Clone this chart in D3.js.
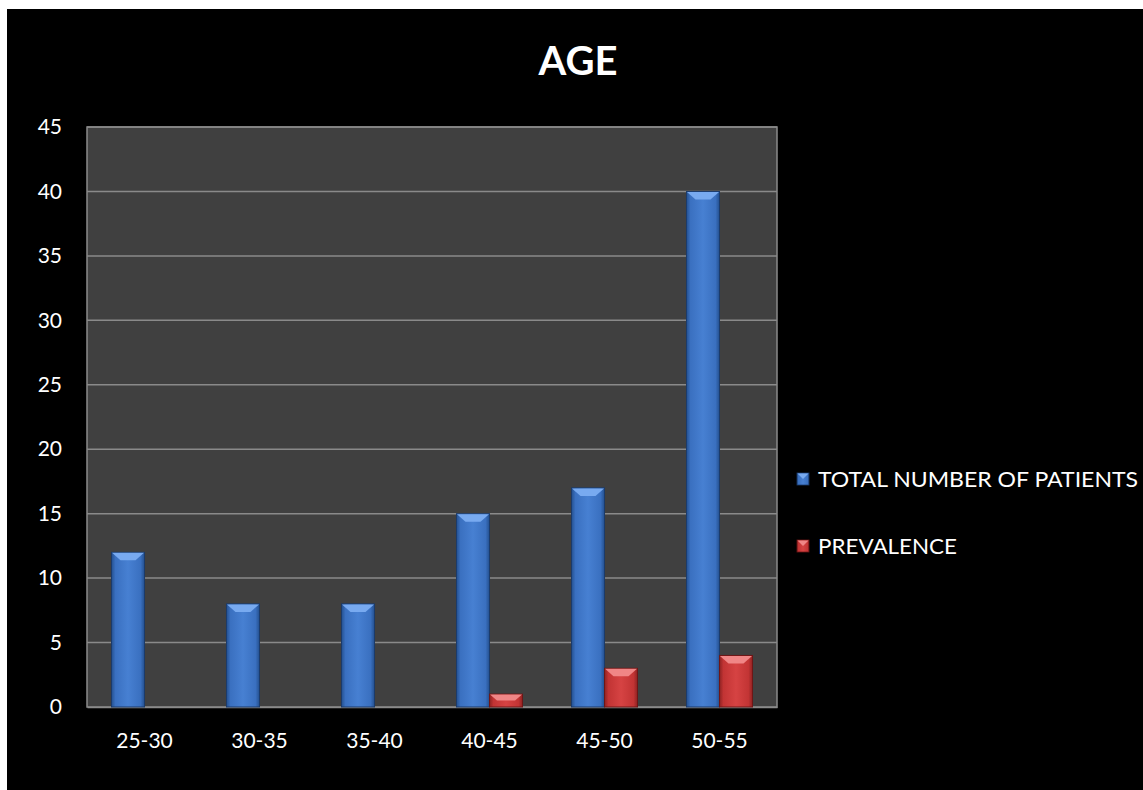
<!DOCTYPE html>
<html>
<head>
<meta charset="utf-8">
<script src="https://cdn.jsdelivr.net/npm/d3@7"></script>
<style>
  html, body { margin: 0; padding: 0; background: #ffffff; }
  svg { display: block; }
</style>
</head>
<body>
<svg id="chart" width="1143" height="790"></svg>
<script>
// Age groups and counts
const categories = ["25-30", "30-35", "35-40", "40-45", "45-50", "50-55"];
const totalPatients = [12, 8, 8, 15, 17, 40];
const prevalence = [0, 0, 0, 1, 3, 4];
const seriesNames = ["TOTAL NUMBER OF PATIENTS", "PREVALENCE"];
const yTicks = [0, 5, 10, 15, 20, 25, 30, 35, 40, 45];

const svg = d3.select("#chart");
const W = 1143, H = 790;
const FONT = "Lato, 'Open Sans', sans-serif";

// black chart background
svg.append("rect").attr("x", 7).attr("y", 9).attr("width", W - 7).attr("height", H - 9).attr("fill", "#000");

const plot = { left: 87, top: 127, right: 777, bottom: 707 };

const x = d3.scaleBand().domain(categories).range([plot.left, plot.right]);
const y = d3.scaleLinear().domain([0, 45]).range([plot.bottom, plot.top]);

const defs = svg.append("defs");
function barGradient(id, edge, mid, light) {
  const g = defs.append("linearGradient").attr("id", id).attr("x1", 0).attr("x2", 1).attr("y1", 0).attr("y2", 0);
  g.append("stop").attr("offset", "0%").attr("stop-color", edge);
  g.append("stop").attr("offset", "12%").attr("stop-color", mid);
  g.append("stop").attr("offset", "50%").attr("stop-color", light);
  g.append("stop").attr("offset", "88%").attr("stop-color", mid);
  g.append("stop").attr("offset", "100%").attr("stop-color", edge);
}
barGradient("gBlue", "#24508f", "#3a70c0", "#4780d2");
barGradient("gRed", "#8e2222", "#c23434", "#d64343");

const styles = [
  { fill: "url(#gBlue)", stroke: "#1b3b6b", bevel: "#78aaf0" },
  { fill: "url(#gRed)", stroke: "#6e1616", bevel: "#f08686" }
];

// plot area
svg.append("rect")
  .attr("x", plot.left).attr("y", plot.top)
  .attr("width", plot.right - plot.left).attr("height", plot.bottom - plot.top)
  .attr("fill", "#404040").attr("stroke", "#8a8a8a").attr("stroke-width", 1.5);

// gridlines
svg.append("g").selectAll("line").data(yTicks.filter(t => t > 0)).join("line")
  .attr("x1", plot.left).attr("x2", plot.right)
  .attr("y1", d => y(d)).attr("y2", d => y(d))
  .attr("stroke", "#8a8a8a").attr("stroke-width", 1.5);

// y axis labels
const yAxis = d3.axisLeft(y).tickValues(yTicks).tickSize(0).tickPadding(25);
const yg = svg.append("g").attr("transform", `translate(${plot.left},0)`).call(yAxis);
yg.select(".domain").remove();
yg.selectAll("text").attr("fill", "#fff").attr("font-size", 21).attr("font-family", FONT);

// x axis labels
const xAxis = d3.axisBottom(x).tickSize(0).tickPadding(26);
const xg = svg.append("g").attr("transform", `translate(0,${plot.bottom})`).call(xAxis);
xg.select(".domain").attr("stroke", "#8a8a8a").attr("stroke-width", 1.5);
xg.selectAll("text").attr("fill", "#fff").attr("font-size", 21).attr("font-family", FONT);

// bars
const barW = 33;
const series = [totalPatients, prevalence];
series.forEach((vals, si) => {
  const st = styles[si];
  const g = svg.append("g");
  const data = categories.map((c, i) => ({ c, v: vals[i] })).filter(d => d.v > 0);
  const bx = d => x(d.c) + x.bandwidth() / 2 + (si === 0 ? -barW : 0);
  g.selectAll("rect").data(data).join("rect")
    .attr("x", bx).attr("y", d => y(d.v))
    .attr("width", barW).attr("height", d => y(0) - y(d.v))
    .attr("fill", st.fill).attr("stroke", st.stroke).attr("stroke-width", 1);
  // top bevel
  const bev = 8;
  g.selectAll("path.bevel").data(data).join("path").attr("class", "bevel")
    .attr("d", d => {
      const x0 = bx(d), y0 = y(d.v);
      const h = Math.min(bev, (y(0) - y0) / 2);
      return `M${x0 + 0.5},${y0 + 0.5} L${x0 + barW - 0.5},${y0 + 0.5} L${x0 + barW - h - 1},${y0 + h} L${x0 + h + 1},${y0 + h} Z`;
    })
    .attr("fill", st.bevel);
});

// title
svg.append("text").attr("x", 578).attr("y", 75).attr("text-anchor", "middle")
  .attr("fill", "#fff").attr("font-size", 40).attr("font-weight", "bold")
  .attr("font-family", FONT).text("AGE");

// legend
const legend = svg.append("g");
const legendY = [479, 546];
const legendLen = [320, 139];
seriesNames.forEach((name, i) => {
  const st = styles[i];
  legend.append("rect").attr("x", 797).attr("y", legendY[i] - 6).attr("width", 12).attr("height", 12)
    .attr("fill", st.fill).attr("stroke", st.stroke).attr("stroke-width", 0.8);
  legend.append("path")
    .attr("d", `M797.5,${legendY[i] - 5.5} L808.5,${legendY[i] - 5.5} L803,${legendY[i]} Z`)
    .attr("fill", st.bevel);
  legend.append("text").attr("x", 818).attr("y", legendY[i] + 8)
    .attr("fill", "#fff").attr("font-size", 21)
    .attr("textLength", legendLen[i]).attr("lengthAdjust", "spacingAndGlyphs")
    .attr("font-family", FONT).text(name);
});
</script>
</body>
</html>
